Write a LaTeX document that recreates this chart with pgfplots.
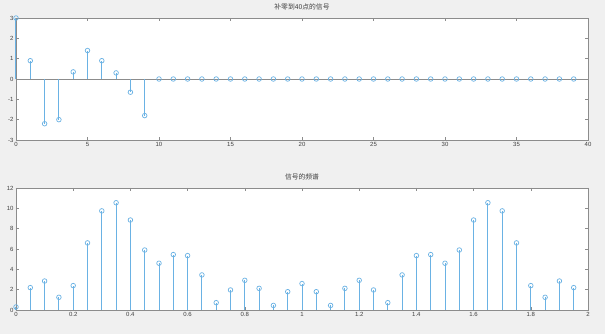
\documentclass[border=0pt]{standalone}
\usepackage{pgfplots}
\pgfplotsset{compat=1.18}
\usepackage{fontspec}
\setmainfont{Liberation Sans}
\newfontfamily\cjk{Noto Sans CJK SC}
\definecolor{bg}{HTML}{F0F0F0}
\definecolor{stemc}{HTML}{6AB2E4}
\definecolor{axc}{HTML}{8C8C8C}
\definecolor{txt}{HTML}{404040}
\pgfplotsset{
  mstyle/.style={
    scale only axis, width=572pt, height=122pt,
    axis background/.style={fill=white},
    axis line style={axc, line width=0.6pt},
    tick style={axc, line width=0.5pt},
    major tick length=3pt,
    tick align=inside,
    tick label style={font=\fontsize{6}{7}\selectfont, text=txt},
    /pgf/number format/assume math mode=true,
    title style={font=\cjk\fontsize{6.8}{7}\selectfont, text=txt, yshift=-2pt},
    clip=false,
    xticklabel style={yshift=1pt},
    yticklabel style={xshift=1pt},
  },
  stemstyle/.style={ycomb, color=stemc, line width=1pt, mark=o, mark size=2.3pt, mark options={line width=0.7pt, fill=none}},
}
\begin{document}
\begin{tikzpicture}[x=1pt,y=1pt]
\fill[bg] (0,0) rectangle (605,334);
\begin{axis}[mstyle, at={(16pt,194pt)}, anchor=south west,
  xmin=0, xmax=40, ymin=-3, ymax=3,
  xtick={0,5,...,40}, ytick={-3,-2,...,3},
  title={补零到40点的信号}]
\addplot[axc, line width=0.6pt] coordinates {(0,0) (40,0)};
\addplot[stemstyle] coordinates {
(0,3) (1,0.9) (2,-2.2) (3,-2.0) (4,0.35) (5,1.4) (6,0.9) (7,0.3) (8,-0.65) (9,-1.8)
(10,0) (11,0) (12,0) (13,0) (14,0) (15,0) (16,0) (17,0) (18,0) (19,0)
(20,0) (21,0) (22,0) (23,0) (24,0) (25,0) (26,0) (27,0) (28,0) (29,0)
(30,0) (31,0) (32,0) (33,0) (34,0) (35,0) (36,0) (37,0) (38,0) (39,0)};
\end{axis}
\begin{axis}[mstyle, at={(16pt,24pt)}, anchor=south west,
  xmin=0, xmax=2, ymin=0, ymax=12,
  xtick={0,0.2,...,2.01}, ytick={0,2,...,12},
  xticklabels={0,0.2,0.4,0.6,0.8,1,1.2,1.4,1.6,1.8,2},
  title={信号的频谱}]
\addplot[stemstyle] coordinates {
(0,0.3) (0.05,2.2) (0.10,2.85) (0.15,1.25) (0.20,2.4) (0.25,6.6) (0.30,9.75) (0.35,10.55) (0.40,8.85) (0.45,5.9)
(0.50,4.6) (0.55,5.45) (0.60,5.35) (0.65,3.45) (0.70,0.72) (0.75,1.97) (0.80,2.92) (0.85,2.13) (0.90,0.45) (0.95,1.8)
(1.00,2.6) (1.05,1.8) (1.10,0.45) (1.15,2.13) (1.20,2.92) (1.25,1.97) (1.30,0.72) (1.35,3.45) (1.40,5.35) (1.45,5.45)
(1.50,4.6) (1.55,5.9) (1.60,8.85) (1.65,10.55) (1.70,9.75) (1.75,6.6) (1.80,2.4) (1.85,1.25) (1.90,2.85) (1.95,2.2)};
\end{axis}
\end{tikzpicture}
\end{document}
